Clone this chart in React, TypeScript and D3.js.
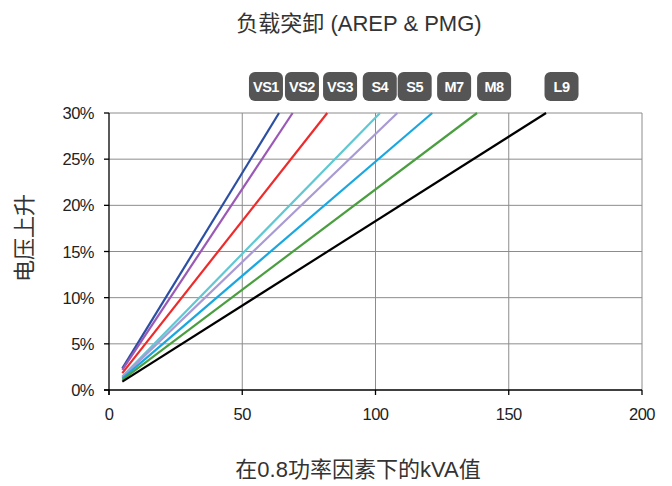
import React from "react";
import * as d3 from "d3";

const seriesNames = ["VS1", "VS2", "VS3", "S4", "S5", "M7", "M8", "L9"];
const seriesColors = ["#2b4fa3", "#9b59b6", "#ee2a2a", "#5fc8d2", "#a99ad4", "#1aa7e0", "#4a9e40", "#000000"];
// each series: [kVA, rise %] at start and at the 30% frame edge
const startKva = [5, 5, 5, 5, 5, 5, 5, 5];
const startRise = [2.35, 2.18, 1.83, 1.47, 1.39, 1.24, 1.09, 0.91];
const endKva = [63.8, 68.9, 81.9, 101.7, 108.2, 121.3, 138.1, 164.0];
const endRise = [30, 30, 30, 30, 30, 30, 30, 30];
// label centre positions in kVA
const labelKva = [58.9, 72.4, 86.7, 101.6, 114.7, 129.5, 144.5, 169.8];

const xTicks = [0, 50, 100, 150, 200];
const yTicks = [0, 5, 10, 15, 20, 25, 30];

const title = "负载突卸 (AREP & PMG)";
const xTitle = "在0.8功率因素下的kVA值";
const yTitle = "电压上升";

const W = 672;
const H = 486;
const m = { left: 109, right: 642, top: 113, bottom: 390 };
const font = "'Liberation Sans', Arial, 'Noto Sans CJK SC', sans-serif";
const cjkFont = "'Liberation Sans', 'Noto Sans CJK SC', sans-serif";

export default function App() {
  const x = d3.scaleLinear().domain([0, 200]).range([m.left, m.right]);
  const y = d3.scaleLinear().domain([0, 30]).range([m.bottom, m.top]);
  const line = d3
    .line<[number, number]>()
    .x((d) => x(d[0]))
    .y((d) => y(d[1]));

  return (
    <svg
      width={W}
      height={H}
      style={{ position: "absolute", left: 0, top: 0, background: "#fff" }}
    >
      <text
        x={359}
        y={31}
        textAnchor="middle"
        fontFamily={cjkFont}
        fontSize={22}
        fill="#333"
      >
        {title}
      </text>

      {/* grid */}
      {yTicks.filter((t) => t > 0).map((t) => (
        <line key={"gy" + t} x1={m.left} x2={m.right} y1={y(t)} y2={y(t)} stroke="#8c8c8c" strokeWidth={1} />
      ))}
      {xTicks.filter((t) => t > 0).map((t) => (
        <line key={"gx" + t} x1={x(t)} x2={x(t)} y1={m.top} y2={m.bottom} stroke="#8c8c8c" strokeWidth={1} />
      ))}

      {/* series */}
      {seriesNames.map((n, i) => (
        <path
          key={n}
          d={line([
            [startKva[i], startRise[i]],
            [endKva[i], endRise[i]],
          ]) || ""}
          fill="none"
          stroke={seriesColors[i]}
          strokeWidth={2.2}
        />
      ))}

      {/* axes */}
      <line x1={m.left} x2={m.left} y1={m.top} y2={m.bottom + 5} stroke="#000" strokeWidth={1.3} />
      <line x1={m.left - 5} x2={m.right} y1={m.bottom} y2={m.bottom} stroke="#000" strokeWidth={1.3} />
      {yTicks.map((t) => (
        <g key={"yt" + t}>
          <line x1={m.left - 5} x2={m.left} y1={y(t)} y2={y(t)} stroke="#000" strokeWidth={1.3} />
          <text x={m.left - 15} y={y(t) + 6} textAnchor="end" fontFamily={font} fontSize={16.5} fill="#222" letterSpacing={-0.5}>
            {t + "%"}
          </text>
        </g>
      ))}
      {xTicks.map((t) => (
        <g key={"xt" + t}>
          <line x1={x(t)} x2={x(t)} y1={m.bottom} y2={m.bottom + 5} stroke="#000" strokeWidth={1.3} />
          <text x={x(t)} y={m.bottom + 30} textAnchor="middle" fontFamily={font} fontSize={16.5} fill="#222" letterSpacing={-0.5}>
            {t}
          </text>
        </g>
      ))}

      {/* series labels */}
      {seriesNames.map((n, i) => (
        <g key={"lb" + n}>
          <rect
            x={x(labelKva[i]) - 17}
            y={72}
            width={34}
            height={29}
            rx={6}
            fill="#555555"
          />
          <text
            x={x(labelKva[i])}
            y={92}
            textAnchor="middle"
            fontFamily={font}
            fontWeight="bold"
            fontSize={14.5}
            fill="#fff"
            letterSpacing={-0.5}
          >
            {n}
          </text>
        </g>
      ))}

      <text
        x={358}
        y={477}
        textAnchor="middle"
        fontFamily={cjkFont}
        fontSize={22}
        fill="#333"
      >
        {xTitle}
      </text>
      <text
        transform={`translate(32,${238}) rotate(-90)`}
        textAnchor="middle"
        fontFamily={cjkFont}
        fontSize={22}
        fill="#333"
      >
        {yTitle}
      </text>
    </svg>
  );
}
